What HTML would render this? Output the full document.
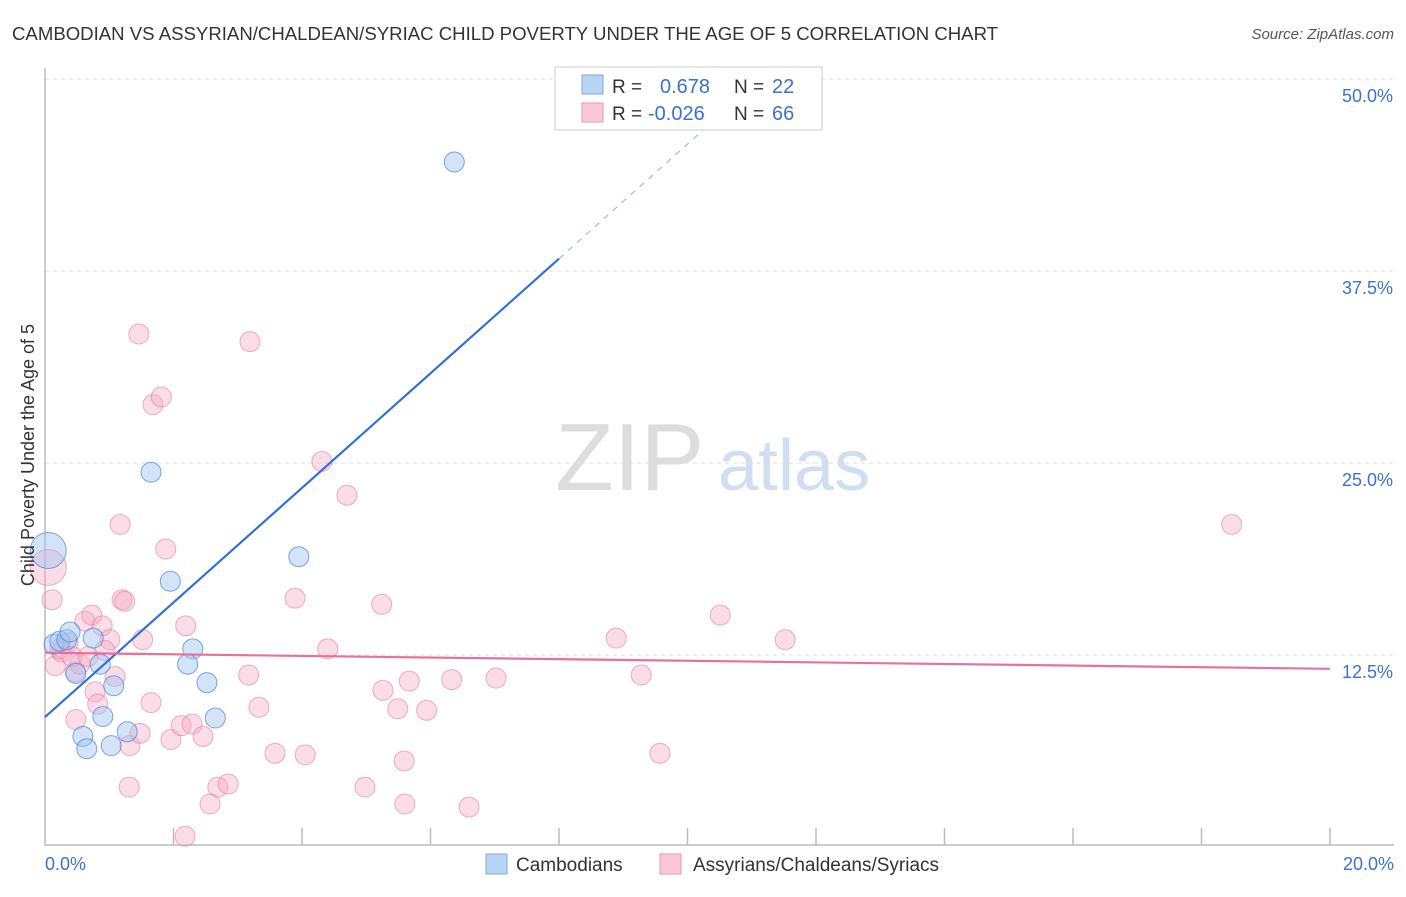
<!DOCTYPE html>
<html><head><meta charset="utf-8"><style>
body{margin:0;background:#fff;font-family:"Liberation Sans",sans-serif;}
svg text{font-family:"Liberation Sans",sans-serif;}
</style></head><body>
<svg id="c" width="1406" height="892" viewBox="0 0 1406 892" xmlns="http://www.w3.org/2000/svg">
<text x="12" y="40" font-size="18.6" fill="#333">CAMBODIAN VS ASSYRIAN/CHALDEAN/SYRIAC CHILD POVERTY UNDER THE AGE OF 5 CORRELATION CHART</text>
<text x="1394" y="39" font-size="15" fill="#555" font-style="italic" text-anchor="end">Source: ZipAtlas.com</text>
<g><text x="555" y="490" font-size="96" fill="#ddd" font-family="Liberation Serif">ZIP</text><text x="718" y="490" font-size="72" fill="#d0def2">atlas</text></g>
<g id="grid"></g>
<g id="axes"></g>
<g id="marks"></g>
<g>
<rect x="555" y="67" width="267" height="63" fill="#fff" stroke="#ccc"/>
<rect x="582" y="75" width="21" height="19" fill="#b9d3f5" stroke="#7aa8e6"/>
<rect x="582" y="103" width="21" height="19" fill="#fac8d6" stroke="#ee93ae"/>
<text x="612" y="93" font-size="19" fill="#333">R =</text><text x="660" y="93" font-size="20" fill="#3a72d0">0.678</text>
<text x="734" y="93" font-size="19" fill="#333">N =</text><text x="772" y="93" font-size="20" fill="#3a72d0">22</text>
<text x="612" y="120" font-size="19" fill="#333">R =</text><text x="648" y="120" font-size="20" fill="#3a72d0">-0.026</text>
<text x="734" y="120" font-size="19" fill="#333">N =</text><text x="772" y="120" font-size="20" fill="#3a72d0">66</text>
</g>
<g>
<rect x="486" y="854" width="21" height="20" fill="#b9d3f5" stroke="#7aa8e6"/><text x="516" y="871" font-size="19" fill="#333">Cambodians</text>
<rect x="660" y="854" width="21" height="20" fill="#fac8d6" stroke="#ee93ae"/><text x="693" y="871" font-size="19" fill="#333">Assyrians/Chaldeans/Syriacs</text>
</g>
<text transform="translate(34,455) rotate(-90)" font-size="18" fill="#333" text-anchor="middle">Child Poverty Under the Age of 5</text>
</svg>
<script>
const yTicks=[12.5,25,37.5,50];
const yTickLabels=["12.5%","25.0%","37.5%","50.0%"];
const xTickLabels=["0.0%","20.0%"];
const blueX=[0.05,0.14,0.23,0.34,0.39,0.75,0.48,0.86,1.07,0.59,0.65,0.90,1.03,1.28,1.95,1.65,2.30,2.22,2.52,2.65,3.95,6.37];
const blueY=[19.3,13.2,13.4,13.5,14.0,13.6,11.3,11.9,10.5,7.2,6.4,8.5,6.6,7.5,17.3,24.4,12.9,11.9,10.7,8.4,18.9,44.6];
const blueR=[18,10,10,10,10,10,10,10,10,10,10,10,10,10,10,10,10,10,10,10,10,10];
const pinkX=[0.05,0.11,0.16,0.26,0.36,0.47,0.54,0.62,0.73,0.89,1.01,0.93,0.78,0.82,0.48,1.09,1.20,1.24,1.17,1.52,1.32,1.48,1.31,1.65,1.88,1.68,1.81,1.46,2.19,1.96,2.12,2.29,2.46,2.69,2.85,2.57,2.18,3.17,3.33,3.19,3.58,4.05,3.89,4.31,4.40,4.70,5.24,5.26,5.49,5.67,5.94,5.59,5.60,4.98,6.33,6.60,7.02,8.89,9.28,9.57,10.51,11.52,18.47,0.23,0.42,0.67];
const pinkY=[18.2,16.1,11.8,12.7,13.3,11.4,11.9,14.7,15.1,14.4,13.5,12.8,10.1,9.3,8.3,11.1,16.1,16.0,21.0,13.5,6.6,7.4,3.9,9.4,19.4,28.8,29.3,33.4,14.4,7.0,7.9,8.0,7.2,3.9,4.1,2.8,0.7,11.2,9.1,32.9,6.1,6.0,16.2,25.1,12.9,22.9,15.8,10.2,9.0,10.8,8.9,5.6,2.8,3.9,10.9,2.6,11.0,13.6,11.2,6.1,15.1,13.5,21.0,12.9,12.4,12.4];
const NS="http://www.w3.org/2000/svg";
const X=v=>45+v/20*1285, Y=v=>847-v/50*768;
function mk(t,a,p){const e=document.createElementNS(NS,t);for(const k in a)e.setAttribute(k,a[k]);p.appendChild(e);return e;}
const grid=document.getElementById('grid'),axes=document.getElementById('axes'),marks=document.getElementById('marks');
yTicks.forEach((t,i)=>{
 const l=mk('line',{x1:45,x2:1394,y1:Y(t),y2:Y(t),stroke:'#ddd','stroke-dasharray':'4,4'},grid);
 
 
 const tx=mk('text',{x:1393,y:Y(t)+23,'font-size':18,fill:'#3a72d0','text-anchor':'end'},axes);
 tx.textContent=yTickLabels[i];
 
 
});
const ax=mk('path',{d:'M45,68 V845 H1394',stroke:'#bbb',fill:'none','stroke-width':1.5},axes);


for(let i=1;i<=10;i++){const t=mk('line',{x1:X(i*2),x2:X(i*2),y1:828,y2:845,stroke:'#bbb','stroke-width':1.5},axes);
 
 }
[[0,'start',45],[1,'end',1394]].forEach(([i,a,x])=>{const t=mk('text',{x:x,y:870,'font-size':18,fill:'#3a72d0','text-anchor':a},axes);t.textContent=xTickLabels[i];
 
 });
pinkX.forEach((x,i)=>{const r=i==0?18:10;const c=mk('circle',{cx:X(x),cy:Y(pinkY[i]),r:r,fill:'rgba(246,170,195,0.4)',stroke:'rgba(232,120,155,0.6)','stroke-width':1},marks);
 
 });
blueX.forEach((x,i)=>{const c=mk('circle',{cx:X(x),cy:Y(blueY[i]),r:blueR[i],fill:'rgba(160,195,240,0.45)',stroke:'rgba(70,130,215,0.7)','stroke-width':1},marks);
 
 });
const bA=8.46,bB=3.73;
let l=mk('line',{x1:X(0),y1:Y(bA),x2:X(8),y2:Y(bA+bB*8),stroke:'#2f6fd6','stroke-width':2.2},marks);


l=mk('line',{x1:X(8),y1:Y(bA+bB*8),x2:X(10.5),y2:Y(bA+bB*10.5),stroke:'#8fb0e0','stroke-width':1,'stroke-dasharray':'6,6'},marks);


l=mk('line',{x1:X(0),y1:Y(12.65),x2:X(20),y2:Y(11.6),stroke:'#e8709a','stroke-width':2.2},marks);


</script>
</body></html>
